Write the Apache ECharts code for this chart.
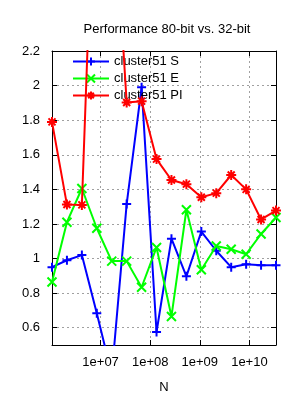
<!DOCTYPE html>
<html><head><meta charset="utf-8">
<script src="https://cdn.jsdelivr.net/npm/echarts@6/dist/echarts.min.js"></script>
<style>html,body{margin:0;padding:0;background:#fff}#c{width:300px;height:400px}</style>
</head><body><div id="c"></div>
<script>
const N = [1048576, 2097152, 4194304, 8388608, 16777216, 33554432, 67108864, 134217728,
  268435456, 536870912, 1073741824, 2147483648, 4294967296, 8589934592, 17179869184, 34359738368];
const S = [0.95, 0.99, 1.02, 0.684, 0.33, 1.315, 1.99, 0.575, 1.115, 0.897, 1.156, 1.045, 0.95, 0.967, 0.961, 0.961];
const E = [0.864, 1.21, 1.405, 1.175, 0.985, 0.985, 0.834, 1.064, 0.665, 1.282, 0.935, 1.072, 1.054, 1.025, 1.142, 1.237];
const PI = [1.79, 1.312, 1.31, 3.7, 3.3, 1.902, 1.91, 1.575, 1.454, 1.43, 1.354, 1.378, 1.483, 1.4, 1.226, 1.277];
const names = ['cluster51 S', 'cluster51 E', 'cluster51 PI'];
const colors = ['#0000ff', '#00ff00', '#ff0000'];
const title = 'Performance 80-bit vs. 32-bit';

const FONT = 'Liberation Sans';
const symPlus = 'path://M0,5L10,5M5,0L5,10';
const symX = 'path://M0,0L10,10M0,10L10,0';
const symStar = 'path://M0,5L10,5M5,0L5,10M1.5,1.5L8.5,8.5M1.5,8.5L8.5,1.5';
const syms = [symPlus, symX, symStar];
const vals = [S, E, PI];

function isPow10(v) {
  const l = Math.log10(v);
  return Math.abs(l - Math.round(l)) < 1e-6;
}
function fmtX(v) {
  if (!isPow10(v)) return '';
  const e = Math.round(Math.log10(v));
  return '1e+' + (e < 10 ? '0' + e : e);
}
const gridLine = { show: true, lineStyle: { color: '#a0a0a0', type: [2, 3], width: 1 } };
const axisLine = { show: true, lineStyle: { color: '#000', width: 1 } };
const tick = { show: true, inside: true, length: 5, lineStyle: { color: '#000' } };

const chart = echarts.init(document.getElementById('c'), null, { renderer: 'canvas' });
chart.setOption({
  animation: false,
  backgroundColor: '#fff',
  textStyle: { fontFamily: FONT },
  title: {
    text: title, left: 162, top: 18, textAlign: 'center',
    textStyle: { fontFamily: FONT, fontSize: 13, fontWeight: 'normal', color: '#000' }
  },
  grid: { left: 52, right: 24, top: 51, bottom: 55, containLabel: false },
  legend: {
    left: 67, top: 50, orient: 'vertical', itemWidth: 36, itemHeight: 10, itemGap: 4,
    textStyle: { fontFamily: FONT, fontSize: 13, color: '#000' },
    data: names
  },
  xAxis: [{
    type: 'log', logBase: 10, min: N[0], max: N[N.length - 1], position: 'bottom',
    name: 'N', nameLocation: 'middle', nameGap: 36,
    nameTextStyle: { fontFamily: FONT, fontSize: 13, color: '#000' },
    axisLine: axisLine, axisTick: tick,
    axisLabel: { formatter: fmtX, fontFamily: FONT, fontSize: 13, color: '#000', margin: 11, showMinLabel: false, showMaxLabel: false },
    splitLine: gridLine
  }, {
    type: 'log', logBase: 10, min: N[0], max: N[N.length - 1], position: 'top',
    axisLine: axisLine, axisTick: tick, axisLabel: { show: false }, splitLine: { show: false }
  }],
  yAxis: [{
    type: 'value', min: 0.5, max: 2.2, splitNumber: 8, position: 'left',
    axisLine: axisLine, axisTick: tick,
    axisLabel: { fontFamily: FONT, fontSize: 13, color: '#000', margin: 12,
      formatter: v => (Math.abs(v - 0.5) < 1e-9 ? '' : String(+v.toFixed(2))) },
    splitLine: gridLine
  }, {
    type: 'value', min: 0.5, max: 2.2, splitNumber: 8, position: 'right',
    axisLine: axisLine, axisTick: tick, axisLabel: { show: false }, splitLine: { show: false }
  }],
  series: names.map((nm, i) => ({
    name: nm, type: 'line', xAxisIndex: 0, yAxisIndex: 0,
    data: N.map((n, j) => [n, vals[i][j]]),
    symbol: syms[i], symbolSize: i === 2 ? 10 : 9, showAllSymbol: true,
    lineStyle: { color: colors[i], width: 2 },
    itemStyle: { color: colors[i], borderColor: colors[i], borderWidth: 2 },
    clip: true, z: 2 + i
  }))
});
</script></body></html>
